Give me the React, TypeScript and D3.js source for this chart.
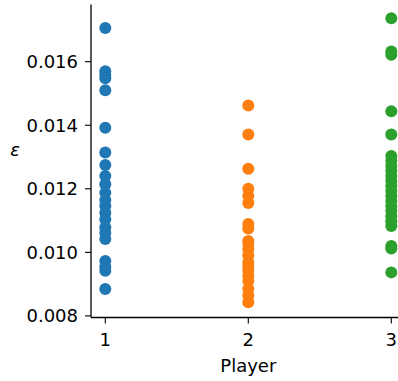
import React from "react";
import * as d3 from "d3";

const players = [1, 2, 3];
const colors = ["#1f77b4", "#ff7f0e", "#2ca02c"];
const player1 = [0.01706, 0.0157, 0.01558, 0.01548, 0.0151, 0.01392, 0.01314, 0.01275, 0.0124, 0.01214, 0.01188, 0.01165, 0.01146, 0.01125, 0.01104, 0.01078, 0.01062, 0.01042, 0.00973, 0.00955, 0.00942, 0.00885];
const player2 = [0.01462, 0.01371, 0.01263, 0.012, 0.01178, 0.01155, 0.01089, 0.01075, 0.01036, 0.01026, 0.0101, 0.0099, 0.00968, 0.00955, 0.00942, 0.00926, 0.0091, 0.00885, 0.00864, 0.00843];
const player3 = [0.01737, 0.01632, 0.01622, 0.01444, 0.01371, 0.01303, 0.01288, 0.01272, 0.01256, 0.0124, 0.01225, 0.01209, 0.01193, 0.01177, 0.01162, 0.01146, 0.0113, 0.01114, 0.01098, 0.01083, 0.0102, 0.01012, 0.00937];
const series = [player1, player2, player3];
const yTicks = [0.008, 0.01, 0.012, 0.014, 0.016];

export default function App() {
  const x = d3.scaleLinear().domain([0.9, 3.1]).range([91, 91 + 2.2 * 143]);
  const y = d3.scaleLinear().domain([0.00795, 0.0178]).range([317.5, 4.5]);
  const font = "DejaVu Sans";
  return (
    <svg width={398} height={381} style={{ position: "absolute", left: 0, top: 0 }} fontFamily={font}>
      {series.map((vals, i) =>
        vals.map((v, j) => (
          <circle key={`${i}-${j}`} cx={x(players[i])} cy={y(v)} r={6} fill={colors[i]} />
        ))
      )}
      <line x1={91} x2={91} y1={y(0.0178)} y2={317.5} stroke="#000" strokeWidth={1.3} />
      <line x1={91} x2={420} y1={317.5} y2={317.5} stroke="#000" strokeWidth={1.3} />
      {yTicks.map((t) => (
        <g key={t}>
          <line x1={85} x2={91} y1={y(t)} y2={y(t)} stroke="#000" strokeWidth={1.1} />
          <text x={78} y={y(t)} dy="0.36em" textAnchor="end" fontSize={18} fill="#000">
            {d3.format(".3f")(t)}
          </text>
        </g>
      ))}
      {players.map((p) => (
        <g key={p}>
          <line x1={x(p)} x2={x(p)} y1={317.5} y2={323.5} stroke="#000" strokeWidth={1.1} />
          <text x={x(p)} y={346} textAnchor="middle" fontSize={18} fill="#000">
            {p}
          </text>
        </g>
      ))}
      <text x={x(2)} y={372} textAnchor="middle" fontSize={18} fill="#000">Player</text>
      <text x={15} y={156} textAnchor="middle" fontSize={18} fontStyle="italic" fill="#000">ε</text>
    </svg>
  );
}
